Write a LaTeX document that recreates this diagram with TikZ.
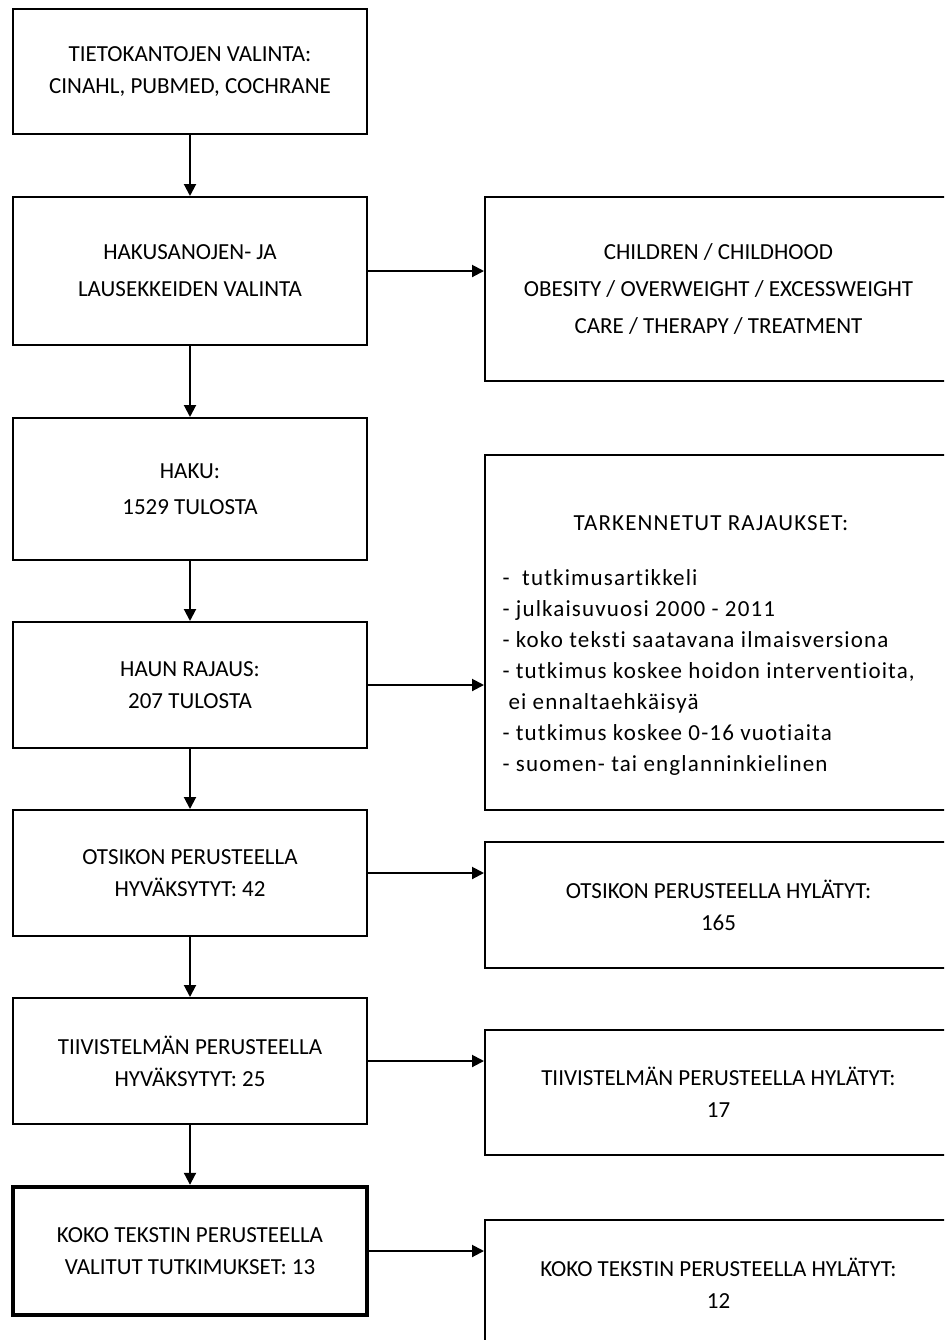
\documentclass[tikz,border=0pt]{standalone}
\usepackage{fontspec}
\setmainfont{Carlito}[Ligatures=NoCommon]
\usetikzlibrary{arrows.meta}
\tikzset{
  >={Triangle[length=6pt,width=6pt]},
  stage/.style={draw, line width=1pt, minimum width=177pt, align=center,
    font=\fontsize{11.5}{16}\selectfont},
  note/.style={draw, line width=1pt, minimum width=233.5pt, align=center,
    font=\fontsize{11.5}{16}\selectfont},
  flow/.style={->, line width=1pt}
}
\begin{document}
\begin{tikzpicture}[x=0.5pt, y=-0.5pt]
\path[use as bounding box, clip] (0,0) rectangle (944,1340);
% left column
\node (db) at (190,71.5) [stage, minimum height=62.5pt] {TIETOKANTOJEN VALINTA:\\CINAHL, PUBMED, COCHRANE};
\node (words) at (190,271) [stage, minimum height=74pt] {HAKUSANOJEN- JA\\[2.5pt]LAUSEKKEIDEN VALINTA};
\node (search) at (190,489) [stage, minimum height=71pt] {HAKU:\\[2pt]1529 TULOSTA};
\node (limit) at (190,685) [stage, minimum height=63pt] {HAUN RAJAUS:\\207 TULOSTA};
\node (title) at (190,873) [stage, minimum height=63pt] {OTSIKON PERUSTEELLA\\HYVÄKSYTYT: 42};
\node (abstract) at (190,1061) [stage, minimum height=63pt] {TIIVISTELMÄN PERUSTEELLA\\HYVÄKSYTYT: 25};
\node (full) at (190,1251) [stage, minimum height=64pt, line width=2.2pt] {KOKO TEKSTIN PERUSTEELLA\\VALITUT TUTKIMUKSET: 13};
% right column
\node (terms) at (718.5,289) [note, minimum height=92pt] {CHILDREN / CHILDHOOD\\[2.5pt]OBESITY / OVERWEIGHT / EXCESSWEIGHT\\[2.5pt]CARE / THERAPY / TREATMENT};
\node (criteria) at (718.5,632.5) [note, minimum height=177.5pt, text width=216pt, align=flush left,
  font=\fontsize{11.5}{15.5}\selectfont\addfontfeature{LetterSpace=5}] {\rule{0pt}{20pt}\hspace*{35.5pt}TARKENNETUT RAJAUKSET:\\[12pt]
  -\ \ tutkimusartikkeli\\
  - julkaisuvuosi 2000 - 2011\\
  - koko teksti saatavana ilmaisversiona\\
  - tutkimus koskee hoidon interventioita,\\
  \hspace*{3pt}ei ennaltaehkäisyä\\
  - tutkimus koskee 0-16 vuotiaita\\
  - suomen- tai englanninkielinen};
\node (titleno) at (718.5,905) [note, minimum height=63pt] {OTSIKON PERUSTEELLA HYLÄTYT:\\165};
\node (abstractno) at (718.5,1092.5) [note, minimum height=62.5pt] {TIIVISTELMÄN PERUSTEELLA HYLÄTYT:\\17};
\node (fullno) at (718.5,1283) [note, minimum height=63pt] {KOKO TEKSTIN PERUSTEELLA HYLÄTYT:\\12};
% connectors
\draw[flow] (db) -- (words);
\draw[flow] (words) -- (search);
\draw[flow] (search) -- (limit);
\draw[flow] (limit) -- (title);
\draw[flow] (title) -- (abstract);
\draw[flow] (abstract) -- (full);
\draw[flow] (words) -- (words -| terms.west);
\draw[flow] (limit) -- (limit -| criteria.west);
\draw[flow] (title) -- (title -| titleno.west);
\draw[flow] (abstract) -- (abstract -| abstractno.west);
\draw[flow] (full) -- (full -| fullno.west);
\end{tikzpicture}
\end{document}
